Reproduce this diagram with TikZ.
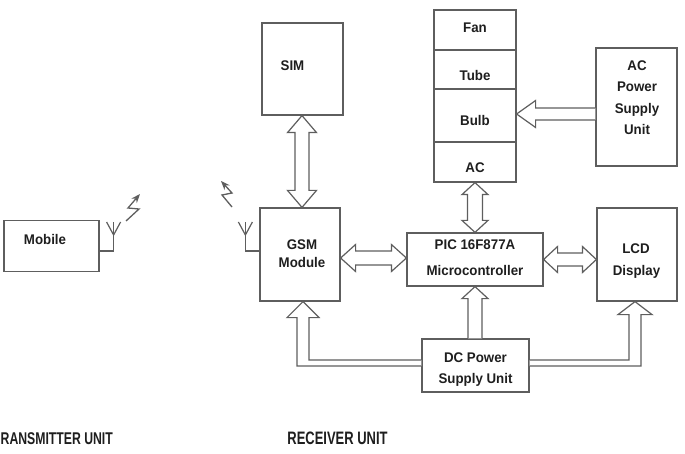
\documentclass[tikz,border=0pt]{standalone}
\usepackage{fontspec}
\setmainfont{Liberation Sans}[FakeStretch=0.95]
\newfontfamily\lblfont{Liberation Sans}[FakeStretch=0.72]
\usetikzlibrary{calc,arrows.meta}
\definecolor{ln}{HTML}{5E5E5E}
\definecolor{tx}{HTML}{1E1E1E}
% vertical double hollow arrow: top, bottom, headlen, headhalf, shafthalf
\newcommand\vdarrow[5]{%
  \draw[hollow] (#1) -- ($(#1)+(#4,#3)$) -- ($(#1)+(#5,#3)$) -- ($(#2)+(#5,-#3)$) -- ($(#2)+(#4,-#3)$) -- (#2)
    -- ($(#2)+(-#4,-#3)$) -- ($(#2)+(-#5,-#3)$) -- ($(#1)+(-#5,#3)$) -- ($(#1)+(-#4,#3)$) -- cycle;}
% horizontal double hollow arrow: left, right, headlen, headhalf, shafthalf
\newcommand\hdarrow[5]{%
  \draw[hollow] (#1) -- ($(#1)+(#3,-#4)$) -- ($(#1)+(#3,-#5)$) -- ($(#2)+(-#3,-#5)$) -- ($(#2)+(-#3,-#4)$) -- (#2)
    -- ($(#2)+(-#3,#4)$) -- ($(#2)+(-#3,#5)$) -- ($(#1)+(#3,#5)$) -- ($(#1)+(#3,#4)$) -- cycle;}
\begin{document}
\begin{tikzpicture}[x=1pt,y=-1pt,
  box/.style={draw=ln, line width=1.2pt, rectangle, inner sep=0pt},
  hollow/.style={draw=ln, line width=1.2pt, fill=white, line join=miter},
  wire/.style={draw=ln, line width=1.2pt},
  t/.style={font=\bfseries\fontsize{14}{16}\selectfont, text=tx, anchor=base, inner sep=0pt},
  lbl/.style={font=\lblfont\bfseries\fontsize{18}{20}\selectfont, text=tx, anchor=base, inner sep=0pt}]
\useasboundingbox (0,0) rectangle (685,454);

% boxes
\node[box, minimum width=95pt, minimum height=51pt] (mobile) at (51.5,246) {};
\node[box, minimum width=81pt, minimum height=92pt] (sim) at (302.5,69) {};
\node[box, minimum width=80pt, minimum height=93pt] (gsm) at (300,254.5) {};
\node[box, minimum width=136pt, minimum height=53pt] (pic) at (475,259.5) {};
\node[box, minimum width=80pt, minimum height=93pt] (lcd) at (637,254.5) {};
\node[box, minimum width=82pt, minimum height=40pt] (fan) at (475,30) {};
\node[box, minimum width=82pt, minimum height=39pt] (tube) at (475,69.5) {};
\node[box, minimum width=82pt, minimum height=53pt] (bulb) at (475,115.5) {};
\node[box, minimum width=82pt, minimum height=40pt] (ac) at (475,162) {};
\node[box, minimum width=81pt, minimum height=118pt] (acps) at (636.5,107) {};
\node[box, minimum width=107pt, minimum height=53pt] (dcps) at (475.5,365.5) {};

% texts
\node[t] (tmob) at (45,245) {Mobile};
\node[t] (tsim) at (292.5,71) {SIM};
\node[t] (tgsm1) at (302,250) {GSM};
\node[t] (tgsm2) at (302,268) {Module};
\node[t] (tpic1) at (475,250) {PIC 16F877A};
\node[t] (tpic2) at (475,276) {Microcontroller};
\node[t] (tlcd1) at (636,254) {LCD};
\node[t] (tlcd2) at (636.5,276) {Display};
\node[t] (tfan) at (475,33) {Fan};
\node[t] (ttube) at (475,81) {Tube};
\node[t] (tbulb) at (475,126) {Bulb};
\node[t] (tac) at (475,173) {AC};
\node[t] (tacp1) at (637,71) {AC};
\node[t] (tacp2) at (637,92) {Power};
\node[t] (tacp3) at (637,114) {Supply};
\node[t] (tacp4) at (637,135) {Unit};
\node[t] (tdc1) at (475.5,362) {DC Power};
\node[t] (tdc2) at (475.5,383) {Supply Unit};
\node[lbl, anchor=base west, font=\lblfont\bfseries\fontsize{17}{20}\selectfont] (ltx) at (0.5,444) {RANSMITTER UNIT};
\node[lbl] (lrx) at (337.5,444) {RECEIVER UNIT};

% double arrows
\coordinate (s1) at ($(sim.south)+(-0.5,0)$);
\coordinate (g1) at (s1 |- gsm.north);
\vdarrow{s1}{g1}{17}{14.5}{7}
\coordinate (a1) at (ac.south);
\coordinate (p1) at (pic.north);
\vdarrow{a1}{p1}{12}{13}{7.5}
\coordinate (g2) at ($(gsm.east)+(0,3.5)$);
\coordinate (p2) at (g2 -| pic.west);
\hdarrow{g2}{p2}{15}{13.5}{7}
\coordinate (p3) at (pic.east);
\coordinate (l3) at (p3 -| lcd.west);
\hdarrow{p3}{l3}{14}{13}{6.5}

% AC power supply -> bulb
\coordinate (b1) at ($(bulb.east)+(0,-1.5)$);
\coordinate (ap) at (b1 -| acps.west);
\draw[hollow] (ap) ++(0,-6) -- ($(b1)+(19,-6)$) -- ($(b1)+(19,-13.5)$) -- (b1) -- ($(b1)+(19,13.5)$) -- ($(b1)+(19,6)$) -- ($(ap)+(0,6)$);

% DC -> PIC
\coordinate (pd) at (pic.south);
\coordinate (dp) at (pd |- dcps.north);
\draw[hollow] ($(dp)+(-7,0)$) -- ($(pd)+(-7,12)$) -- ($(pd)+(-13,12)$) -- (pd) -- ($(pd)+(13,12)$) -- ($(pd)+(7,12)$) -- ($(dp)+(7,0)$);

% DC -> GSM (elbow)
\coordinate (tg) at ($(gsm.south)+(3,0)$);
\coordinate (cg) at (tg |- dcps.west);
\draw[hollow] ($(dcps.west)+(0,-5.5)$) -- ($(cg)+(6,-5.5)$) -- ($(tg)+(6,16)$) -- ($(tg)+(16,16)$) -- (tg)
  -- ($(tg)+(-16,16)$) -- ($(tg)+(-6,16)$) -- ($(cg)+(-6,0.5)$) -- ($(dcps.west)+(0,0.5)$);

% DC -> LCD (elbow)
\coordinate (tl) at ($(lcd.south)+(-2,0)$);
\coordinate (cl) at (tl |- dcps.east);
\draw[hollow] ($(dcps.east)+(0,-5.5)$) -- ($(cl)+(-6,-5.5)$) -- ($(tl)+(-6,13)$) -- ($(tl)+(-17,13)$) -- (tl)
  -- ($(tl)+(17,13)$) -- ($(tl)+(6,13)$) -- ($(cl)+(6,0.5)$) -- ($(dcps.east)+(0,0.5)$);

% transmitter antenna
\coordinate (ma) at ($(mobile.east)+(0,5)$);
\coordinate (mt) at ($(ma)+(14,0)$);
\draw[wire] (ma) -- (mt) -- ++(0,-29);
\draw[wire] ($(mt)+(0,-16)$) -- ($(mt)+(-7,-29)$);
\draw[wire] ($(mt)+(0,-16)$) -- ($(mt)+(7,-29)$);
\draw[wire, line width=1.3pt, -{Stealth[length=9pt,width=7pt]}] (126,221) -- (139,209) -- (128,208) -- (140,194);

% receiver antenna
\coordinate (ga) at ($(gsm.west)+(0,-3.5)$);
\coordinate (gt) at ($(ga)+(-14,0)$);
\draw[wire] (ga) -- (gt) -- ++(0,-29);
\draw[wire] ($(gt)+(0,-16)$) -- ($(gt)+(-7,-29)$);
\draw[wire] ($(gt)+(0,-16)$) -- ($(gt)+(7,-29)$);
\draw[wire, line width=1.3pt, -{Stealth[length=9pt,width=7pt]}] (232,207) -- (222,195) -- (232,193) -- (221,181);
\end{tikzpicture}
\end{document}
